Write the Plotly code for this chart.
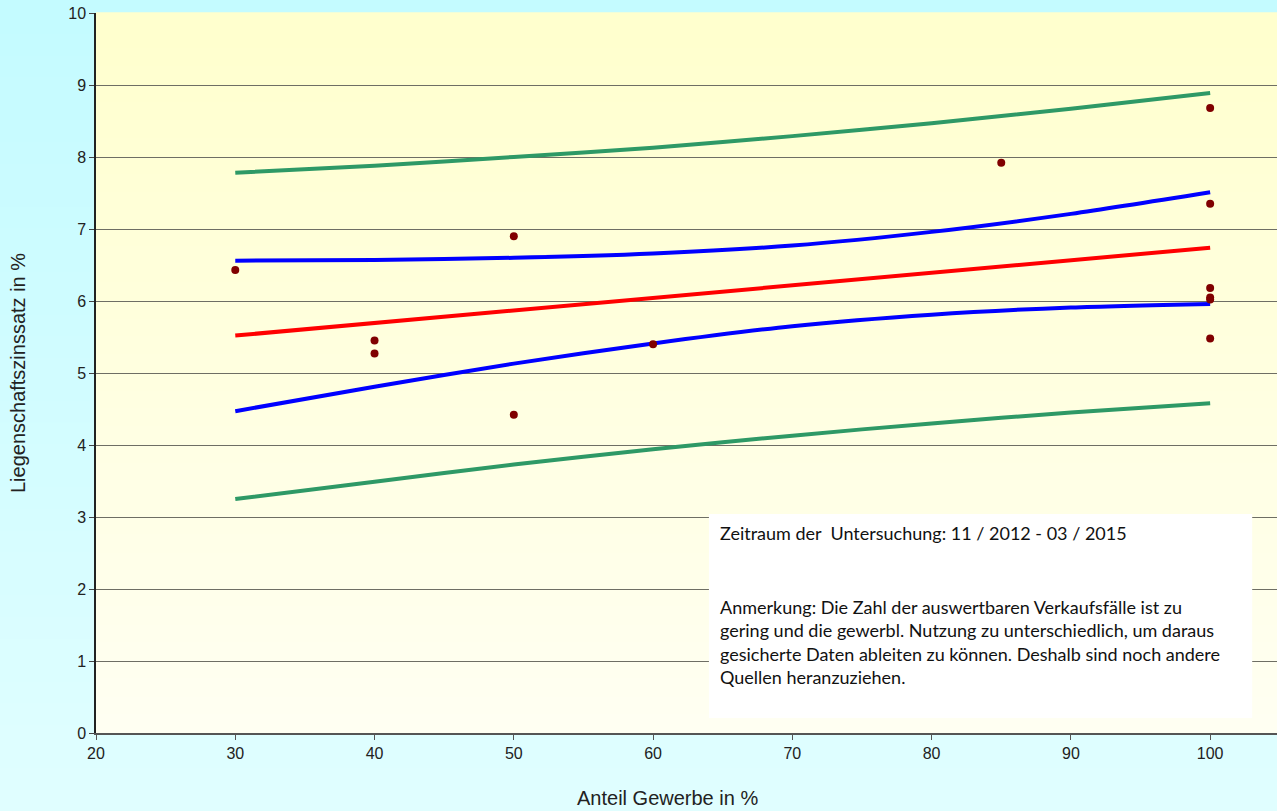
import plotly.graph_objects as go

# --- data ---
pts_x = [30, 40, 40, 50, 50, 60, 85, 100, 100, 100, 100, 100, 100]
pts_y = [6.43, 5.45, 5.27, 6.90, 4.42, 5.40, 7.92, 8.68, 7.35, 6.18, 6.05, 6.02, 5.48]

band_x = [30, 40, 50, 60, 70, 80, 90, 100]
green_upper = [7.78, 7.88, 8.00, 8.13, 8.29, 8.47, 8.67, 8.89]
green_lower = [3.25, 3.49, 3.73, 3.94, 4.13, 4.30, 4.45, 4.58]
blue_upper = [6.56, 6.57, 6.60, 6.66, 6.77, 6.96, 7.21, 7.51]
blue_lower = [4.47, 4.81, 5.13, 5.41, 5.65, 5.81, 5.91, 5.96]
red_x = [30, 100]
red_y = [5.52, 6.74]

x_ticks = [20, 30, 40, 50, 60, 70, 80, 90, 100]
y_ticks = [0, 1, 2, 3, 4, 5, 6, 7, 8, 9, 10]

note1 = "Zeitraum der  Untersuchung: 11 / 2012 - 03 / 2015"
note2 = ("Anmerkung: Die Zahl der auswertbaren Verkaufsfälle ist zu<br>"
         "gering und die gewerbl. Nutzung zu unterschiedlich, um daraus<br>"
         "gesicherte Daten ableiten zu können. Deshalb sind noch andere<br>"
         "Quellen heranzuziehen.")

fig = go.Figure()

GREEN = "#2E9966"
for yv, col in [(green_upper, GREEN), (green_lower, GREEN),
                (blue_upper, "#0000FF"), (blue_lower, "#0000FF")]:
    fig.add_trace(go.Scatter(x=band_x, y=yv, mode="lines",
                             line=dict(color=col, width=4, shape="spline", smoothing=0.8),
                             hoverinfo="skip", showlegend=False))
fig.add_trace(go.Scatter(x=red_x, y=red_y, mode="lines",
                         line=dict(color="#FF0000", width=4), showlegend=False))
fig.add_trace(go.Scatter(x=pts_x, y=pts_y, mode="markers",
                         marker=dict(color="#800000", size=8), showlegend=False))

# background gradients (stepped bands)
shapes = []
N = 40
for i in range(N):
    t = i / (N - 1)
    r = int(0xC4 + (0xE2 - 0xC4) * t)
    g = int(0xFB + (0xFF - 0xFB) * t)
    col = f"rgb({r},{g},255)"
    shapes.append(dict(type="rect", xref="paper", yref="paper", layer="below",
                       x0=-0.1, x1=1.1, y0=1.03 - (i + 1) * 1.2 / N, y1=1.03 - i * 1.2 / N + 0.001,
                       fillcolor=col, line=dict(width=0)))
for i in range(N):
    t = i / (N - 1)
    b = int(0xCE + (0xF2 - 0xCE) * t)
    col = f"rgb(255,255,{b})"
    shapes.append(dict(type="rect", xref="paper", yref="paper", layer="below",
                       x0=0, x1=1, y0=1 - (i + 1) / N, y1=1 - i / N + 0.001,
                       fillcolor=col, line=dict(width=0)))
shapes.append(dict(type="rect", xref="paper", yref="paper", layer="above",
                   x0=0.519, x1=0.979, y0=0.021, y1=0.304,
                   fillcolor="white", line=dict(width=0)))

annotations = [
    dict(text=note1, xref="paper", yref="paper", x=0.527, y=0.296,
         xanchor="left", yanchor="top", showarrow=False, align="left",
         font=dict(family="Lato", size=18, color="#111")),
    dict(text=note2, xref="paper", yref="paper", x=0.527, y=0.193,
         xanchor="left", yanchor="top", showarrow=False, align="left",
         font=dict(family="Lato", size=18, color="#111")),
    dict(text="Anteil Gewerbe in %", xref="paper", yref="paper", x=0.484, y=-0.108,
         xanchor="center", yanchor="bottom", showarrow=False,
         font=dict(family="Liberation Sans", size=20, color="#222")),
    dict(text="Liegenschaftszinssatz in %", xref="paper", yref="paper", x=-0.066, y=0.5,
         xanchor="center", yanchor="middle", textangle=-90, showarrow=False,
         font=dict(family="Liberation Sans", size=20, color="#222")),
]

fig.update_layout(
    width=1277, height=811,
    margin=dict(l=96, r=0, t=13, b=78),
    paper_bgcolor="#D2FDFF", plot_bgcolor="#FFFFDC",
    shapes=shapes, annotations=annotations,
    font=dict(family="Liberation Sans", size=16, color="#222"),
    showlegend=False,
)
fig.update_xaxes(range=[20, 104.8], tickvals=x_ticks, showgrid=False, zeroline=False,
                 showline=True, linecolor="#555", linewidth=1.5, ticks="outside",
                 ticklen=5, tickcolor="#555", tickfont=dict(size=16))
fig.update_yaxes(range=[0, 10], tickvals=y_ticks, showgrid=True, gridcolor="#6E6E64",
                 gridwidth=1, zeroline=False, showline=True, linecolor="#222",
                 linewidth=1.5, ticks="outside", ticklen=5, tickcolor="#444",
                 tickfont=dict(size=16))

fig.write_html("out.html")
